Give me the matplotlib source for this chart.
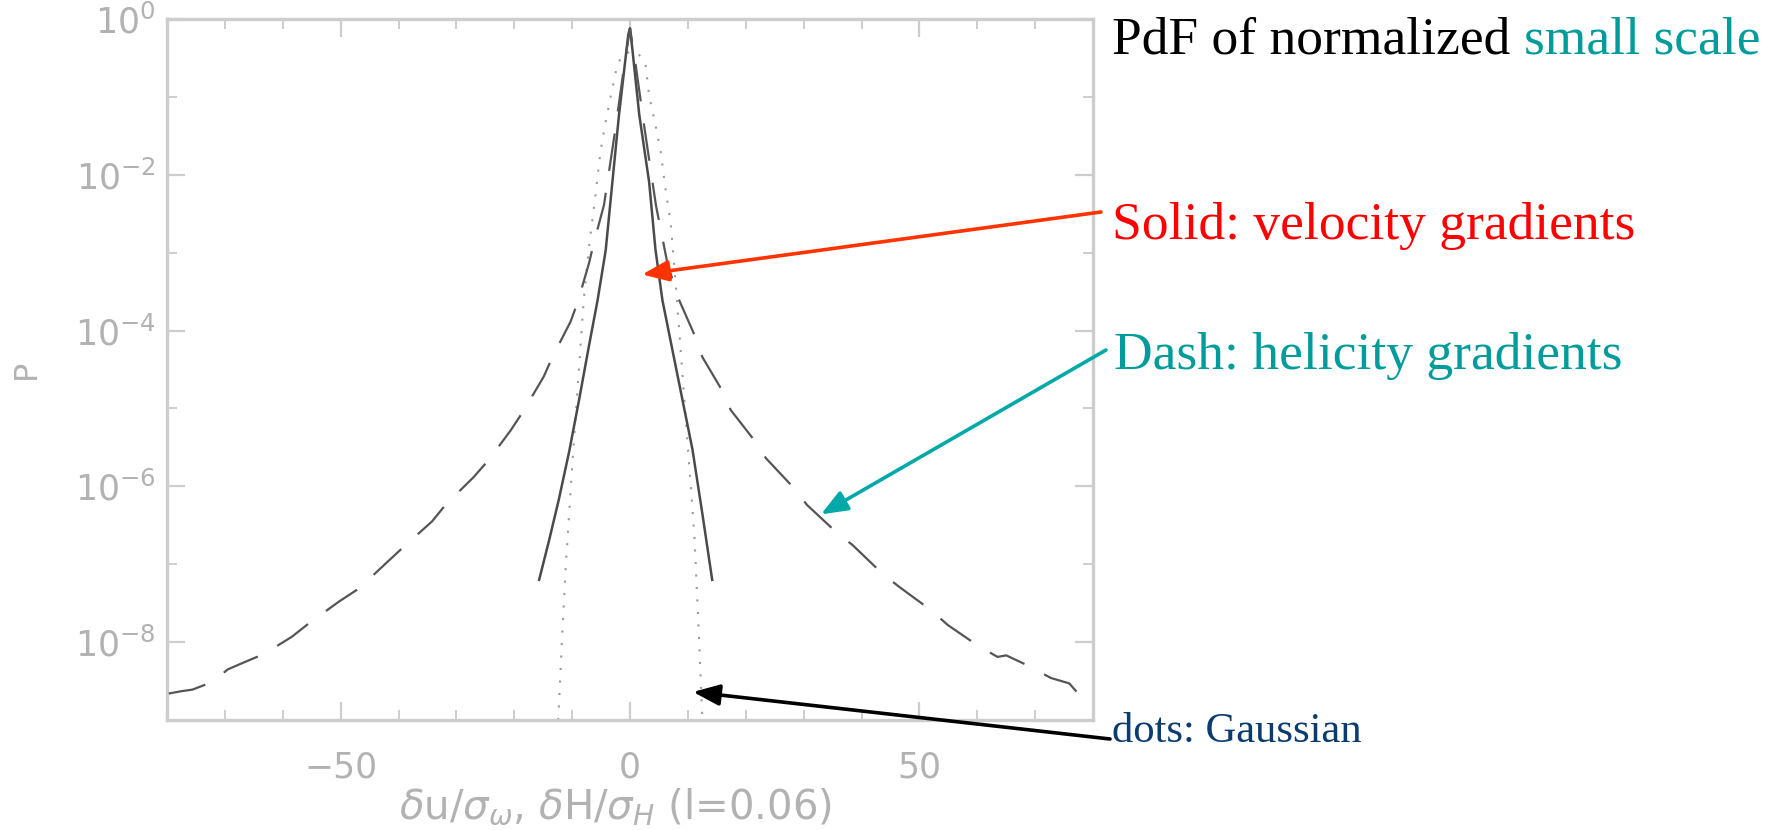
import matplotlib
matplotlib.use("Agg")
import matplotlib.pyplot as plt
from matplotlib.ticker import FixedLocator, NullFormatter, LogFormatterSciNotation
import numpy as np

# Data (x in sigma units, log10 of the PdF)
solid_x = [-15.7, -14.0, -12.3, -10.5, -8.8, -7.1, -5.6, -4.2, -3.0, -1.9, -0.3, 0.0,
           0.4, 1.6, 3.3, 4.4, 5.6, 7.9, 10.8, 12.5, 14.2]
solid_logp = [-7.20, -6.70, -6.17, -5.55, -4.89, -4.20, -3.61, -2.97, -2.06, -1.23, -0.20, -0.12,
              -0.38, -1.23, -2.09, -2.96, -3.61, -4.46, -5.53, -6.35, -7.20]

dash_x = [-79.7, -77.5, -75.6, -73.5, -71.6, -69.5, -67.0, -63.5, -61.0, -58.4, -55.5, -50.3,
          -46.8, -42.2, -39.3, -34.2, -31.9, -27.0, -24.4, -20.6, -18.3, -14.9, -13.4, -10.3,
          -9.1, -7.1, -6.2, -4.5, -2.5, -1.0, 0.0,
          1.0, 2.5, 4.5, 6.5, 8.5, 11.4, 12.5, 16.0, 17.4, 21.7, 23.5, 28.3, 30.6, 35.8,
          38.4, 43.6, 46.5, 52.0, 54.9, 60.0, 63.5, 65.0, 69.0, 72.7, 75.9, 77.9, 79.0]
dash_logp = [-8.66, -8.63, -8.61, -8.55, -8.48, -8.35, -8.27, -8.16, -8.05, -7.93, -7.76, -7.48,
             -7.31, -6.99, -6.79, -6.45, -6.24, -5.88, -5.66, -5.28, -5.02, -4.59, -4.34, -3.89,
             -3.65, -3.14, -2.86, -2.39, -1.40, -0.60, -0.12,
             -0.60, -1.40, -2.40, -3.15, -3.61, -4.10, -4.34, -4.78, -5.02, -5.43, -5.64, -6.02,
             -6.24, -6.60, -6.75, -7.12, -7.29, -7.59, -7.78, -8.04, -8.19, -8.17, -8.31, -8.46,
             -8.53, -8.70, -8.72]

dots_x = [-12.4, -11.7, -11.1, -10.0, -8.0, -7.1, -5.9, -5.1, -4.2, -3.3, -2.2, -1.2, 0.2,
          1.5, 2.7, 3.3, 4.4, 5.3, 6.2, 7.0, 7.9, 9.6, 11.1, 11.9, 12.5]
dots_logp = [-9.0, -7.89, -7.03, -5.75, -3.61, -2.94, -2.22, -1.70, -1.32, -0.98, -0.59, -0.45,
             -0.42, -0.45, -0.59, -0.98, -1.36, -1.70, -2.22, -2.60, -3.40, -5.10, -6.60, -7.89,
             -9.0]

x_major = [-50, 0, 50]
x_minor = [-80, -70, -60, -40, -30, -20, -10, 10, 20, 30, 40, 60, 70, 80]
y_major = [1e0, 1e-2, 1e-4, 1e-6, 1e-8]
y_minor = [1e-1, 1e-3, 1e-5, 1e-7, 1e-9]

# Style constants
AXIS_GRAY = "#cdcdcd"
LABEL_GRAY = "#b2b2b2"
TEAL = "#009c9c"
RED = "#ff0000"
ARROW_RED = "#ff3300"
NAVY = "#0b3b6f"
W, H = 1770, 830
BIG = 38.5

fig = plt.figure(figsize=(W / 100, H / 100), dpi=100)
fig.set_facecolor("white")
ax = fig.add_axes([167 / W, 1 - 720 / H, (1093 - 167) / W, (720 - 19) / H])

ax.plot(solid_x, 10.0 ** np.array(solid_logp), color="#4a4a4a", lw=1.8, zorder=3)
ax.plot(dash_x, 10.0 ** np.array(dash_logp), color="#555555", lw=1.6,
        linestyle=(0, (17, 10)), zorder=3)
ax.plot(dots_x, 10.0 ** np.array(dots_logp), color="#9a9a9a", lw=1.5,
        linestyle=(0, (1, 5)), zorder=2)

ax.set_yscale("log")
ax.set_xlim(-80, 80)
ax.set_ylim(1e-9, 1e0)

ax.xaxis.set_major_locator(FixedLocator(x_major))
ax.xaxis.set_minor_locator(FixedLocator(x_minor))
ax.yaxis.set_major_locator(FixedLocator(y_major))
ax.yaxis.set_minor_locator(FixedLocator(y_minor))
ax.yaxis.set_major_formatter(LogFormatterSciNotation())
ax.yaxis.set_minor_formatter(NullFormatter())

for s in ax.spines.values():
    s.set_color(AXIS_GRAY)
    s.set_linewidth(2.4)
ax.tick_params(which="both", direction="in", top=True, right=True, color=AXIS_GRAY,
               labelcolor=LABEL_GRAY, labelsize=25)
ax.tick_params(which="major", length=13, width=1.6)
ax.tick_params(which="minor", length=7, width=1.4)
ax.tick_params(axis="x", which="major", pad=22)
ax.tick_params(axis="y", which="major", pad=8)

ax.set_xlabel(r"$\delta$u/$\sigma_\omega$, $\delta$H/$\sigma_H$ (l=0.06)",
              fontsize=29, color=LABEL_GRAY)
ax.xaxis.set_label_coords(0.484, -0.124)
ax.xaxis.label.set_va("center")
ax.set_ylabel("P", fontsize=23, color=LABEL_GRAY)
ax.yaxis.set_label_coords(-0.152, 0.5)
ax.yaxis.label.set_va("center")

# Annotation texts on the right
serif = "Liberation Serif"
tx = 1112 / W
t1 = fig.text(tx, 1 - 53 / H, "PdF of normalized ", fontsize=BIG, family=serif,
              color="black", va="baseline")
fig.canvas.draw()
bb = t1.get_window_extent()
fig.text(bb.x1 / W, 1 - 53 / H, "small scale", fontsize=BIG, family=serif,
         color=TEAL, va="baseline")
fig.text(tx, 1 - 239 / H, "Solid: velocity gradients", fontsize=BIG, family=serif,
         color=RED, va="baseline")
fig.text(tx + 2 / W, 1 - 369 / H, "Dash: helicity gradients", fontsize=BIG, family=serif,
         color=TEAL, va="baseline")
fig.text(tx, 1 - 742 / H, "dots: Gaussian", fontsize=30.7, family=serif,
         color=NAVY, va="baseline")

# Arrows pointing at the curves
arrows = [
    ((2.1, 10 ** -3.28), (1101, 212), ARROW_RED),
    ((33.0, 10 ** -6.36), (1106, 350), "#00a8a8"),
    ((10.9, 10 ** -8.64), (1110, 739), "black"),
]
for tip, tail, col in arrows:
    ax.annotate("", xy=tip, xycoords="data",
                xytext=(tail[0] / W, 1 - tail[1] / H), textcoords="figure fraction",
                arrowprops=dict(arrowstyle="-|>,head_length=1.0,head_width=0.4",
                                color=col, lw=2.6, mutation_scale=16,
                                shrinkA=0, shrinkB=0),
                annotation_clip=False, zorder=5)

fig.savefig("out.png", dpi=100, facecolor="white")
